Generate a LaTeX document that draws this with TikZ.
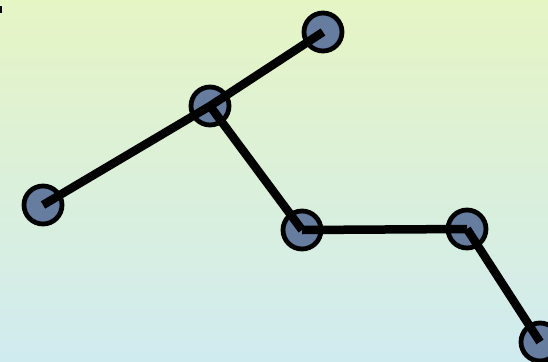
\documentclass[tikz,border=0pt]{standalone}
\begin{document}
\begin{tikzpicture}[x=1pt,y=-1pt,
  vertex/.style={circle,draw=black,line width=4.8pt,fill=nodefill,minimum size=38pt,inner sep=0pt},
  link/.style={line width=8.5pt,line cap=butt}]
\definecolor{nodefill}{RGB}{102,125,160}
\definecolor{bgtop}{RGB}{230,245,196}
\definecolor{bgbottom}{RGB}{208,235,240}
\useasboundingbox (0,0) rectangle (548,361);
\clip (0,0) rectangle (548,361);
\shade[top color=bgtop,bottom color=bgbottom] (0,0) rectangle (548,361);
\fill[black] (0,6) rectangle (2,13);
% vertices
\node[vertex] (a) at (43,205) {};
\node[vertex] (b) at (210,106) {};
\node[vertex] (c) at (323,32) {};
\node[vertex] (d) at (302,230) {};
\node[vertex] (e) at (467,229) {};
\node[vertex] (f) at (540,342) {};
% links, drawn over the vertices from centre to centre
\draw[link] (a.center) -- (b.center);
\draw[link] (b.center) -- (c.center);
\draw[link] (b.center) -- (d.center);
\draw[link] (d.center) -- (e.center);
\draw[link] (e.center) -- (f.center);
\end{tikzpicture}
\end{document}
